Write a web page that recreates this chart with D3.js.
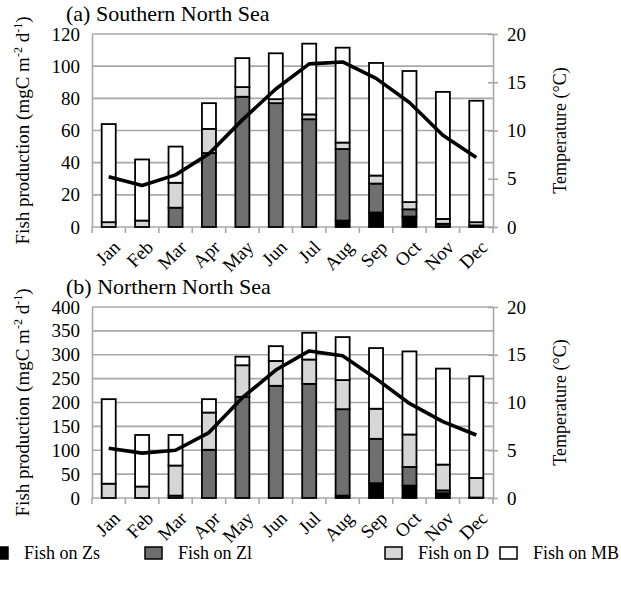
<!DOCTYPE html>
<html>
<head>
<meta charset="utf-8">
<script src="https://cdn.jsdelivr.net/npm/d3@7"></script>
<style>
  body { margin: 0; background: #fff; }
  svg text { font-family: "Liberation Serif", "Times New Roman", Times, serif; fill: #000; }
</style>
</head>
<body>
<div id="chart"></div>
<script>
const months = ["Jan", "Feb", "Mar", "Apr", "May", "Jun", "Jul", "Aug", "Sep", "Oct", "Nov", "Dec"];

// (a) Southern North Sea, mgC m-2 d-1
const southZs = [0, 0, 0, 0, 0, 0, 0, 4, 9, 6.5, 0.5, 0];
const southZl = [0, 0, 12, 46, 81, 77, 67, 44.5, 18, 4.5, 1.5, 1];
const southD  = [3, 4, 15.5, 15, 6, 2.5, 3, 4, 5, 4.5, 3, 2];
const southMB = [61, 38, 22.5, 16, 18, 28.5, 44, 59, 70, 81.5, 79, 75.5];
const southTemp = [5.2, 4.3, 5.4, 7.6, 11.1, 14.3, 16.9, 17.1, 15.4, 12.9, 9.5, 7.2];

// (b) Northern North Sea
const northZs = [0, 0, 0, 0, 0, 0, 0, 5, 31, 26, 10, 0];
const northZl = [0, 0, 5, 101, 212, 235, 239, 181, 93, 39, 6, 1];
const northD  = [30, 24, 63, 78, 66, 52, 51, 61, 63, 68, 54, 41];
const northMB = [177, 108, 64, 28, 18, 31, 56, 90, 127, 174, 201, 213];
const northTemp = [5.2, 4.7, 5.0, 6.85, 10.5, 13.4, 15.4, 14.9, 12.5, 9.9, 8.0, 6.6];

const seriesNames = ["Fish on Zs", "Fish on Zl", "Fish on D", "Fish on MB"];
const seriesColors = ["#000000", "#6f6f6f", "#d6d6d6", "#ffffff"];

const southTicks = [0, 20, 40, 60, 80, 100, 120];
const northTicks = [0, 50, 100, 150, 200, 250, 300, 350, 400];
const tempTicks = [0, 5, 10, 15, 20];

const width = 621, height = 591;
const left = 92, right = 493;
const gridColor = "#a8a8a8";
const serif = "Liberation Serif, Times New Roman, serif";

const svg = d3.select("#chart").append("svg")
      .attr("width", width)
      .attr("height", height)
      .attr("font-family", serif);

function drawPanel(title, top, bottom, yMax, yTicks, series, temp) {
      const x = d3.scaleBand().domain(months).range([left, right]).padding(0);
      const y = d3.scaleLinear().domain([0, yMax]).range([bottom, top]);
      const yT = d3.scaleLinear().domain([0, 20]).range([bottom, top]);
      const g = svg.append("g");

      // gridlines
      g.append("g")
            .selectAll("line")
            .data(yTicks.slice(1))
            .join("line")
            .attr("x1", left).attr("x2", right)
            .attr("y1", d => y(d)).attr("y2", d => y(d))
            .attr("stroke", gridColor).attr("stroke-width", 1.6);

      // left axis
      const ax = g.append("g")
            .attr("transform", `translate(${left},0)`)
            .call(d3.axisLeft(y).tickValues(yTicks).tickSize(0).tickPadding(12));
      ax.attr("font-family", serif);
      ax.select(".domain").attr("stroke", gridColor).attr("stroke-width", 1.6);
      ax.selectAll("text").attr("font-size", 19);

      // right axis
      const ar = g.append("g")
            .attr("transform", `translate(${right},0)`)
            .call(d3.axisRight(yT).tickValues(tempTicks).tickSizeInner(5).tickSizeOuter(0).tickPadding(9));
      ar.attr("font-family", serif);
      ar.select(".domain").attr("stroke", gridColor).attr("stroke-width", 1.6);
      ar.selectAll(".tick line").attr("x1", -5).attr("stroke", gridColor).attr("stroke-width", 1.6);
      ar.selectAll("text").attr("font-size", 19);

      // x axis
      g.append("line")
            .attr("x1", left).attr("x2", right)
            .attr("y1", bottom).attr("y2", bottom)
            .attr("stroke", gridColor).attr("stroke-width", 1.6);
      g.append("g")
            .selectAll("line")
            .data(months.concat(["end"]))
            .join("line")
            .attr("x1", (d, i) => left + i * x.step())
            .attr("x2", (d, i) => left + i * x.step())
            .attr("y1", bottom).attr("y2", bottom + 6)
            .attr("stroke", gridColor).attr("stroke-width", 1.6);
      g.append("g")
            .selectAll("text")
            .data(months)
            .join("text")
            .attr("transform", d => `translate(${x(d) + x.bandwidth() / 2 + 3},${bottom + 12}) rotate(-45)`)
            .attr("text-anchor", "end")
            .attr("dy", "0.7em")
            .attr("font-size", 19)
            .text(d => d);

      // stacked bars
      const rows = months.map((m, i) => {
            const r = {month: m};
            seriesNames.forEach((s, k) => r[s] = series[k][i]);
            return r;
      });
      const stack = d3.stack().keys(seriesNames)(rows);
      const bw = x.bandwidth() * 0.42;
      g.append("g")
            .selectAll("g")
            .data(stack)
            .join("g")
            .attr("fill", (d, i) => seriesColors[i])
            .selectAll("rect")
            .data(d => d)
            .join("rect")
            .attr("x", d => x(d.data.month) + (x.bandwidth() - bw) / 2)
            .attr("y", d => y(d[1]))
            .attr("width", bw)
            .attr("height", d => y(d[0]) - y(d[1]))
            .attr("stroke", "#000")
            .attr("stroke-width", 1.8);

      // temperature line
      g.append("path")
            .datum(temp)
            .attr("fill", "none")
            .attr("stroke", "#000")
            .attr("stroke-width", 3.6)
            .attr("stroke-linejoin", "round")
            .attr("d", d3.line()
                  .x((d, i) => x(months[i]) + x.bandwidth() / 2)
                  .y(d => yT(d)));

      // titles
      g.append("text")
            .attr("x", 66).attr("y", top - 13)
            .attr("font-size", 22)
            .text(title);

      const yl = g.append("text")
            .attr("transform", `translate(29,${(top + bottom) / 2}) rotate(-90)`)
            .attr("text-anchor", "middle")
            .attr("font-size", 19);
      yl.append("tspan").text("Fish production (mgC m");
      yl.append("tspan").attr("font-size", 12).attr("dy", -7).text("-2");
      yl.append("tspan").attr("dy", 7).text(" d");
      yl.append("tspan").attr("font-size", 12).attr("dy", -7).text("-1");
      yl.append("tspan").attr("dy", 7).text(")");

      g.append("text")
            .attr("transform", `translate(566,${(top + bottom) / 2}) rotate(-90)`)
            .attr("text-anchor", "middle")
            .attr("font-size", 18)
            .text("Temperature (°C)");
}

drawPanel("(a) Southern North Sea", 34, 227, 120, southTicks,
      [southZs, southZl, southD, southMB], southTemp);
drawPanel("(b) Northern North Sea", 307, 498, 400, northTicks,
      [northZs, northZl, northD, northMB], northTemp);

// legend
const legendX = [-9, 145, 385, 500];
const legend = svg.append("g").attr("transform", "translate(0,559)");
seriesNames.forEach((s, i) => {
      legend.append("rect")
            .attr("x", legendX[i]).attr("y", -12)
            .attr("width", 17).attr("height", 12)
            .attr("fill", seriesColors[i])
            .attr("stroke", "#000").attr("stroke-width", 1.5);
      legend.append("text")
            .attr("x", legendX[i] + 33).attr("y", 0)
            .attr("font-size", 18)
            .text(s);
});
</script>
</body>
</html>
